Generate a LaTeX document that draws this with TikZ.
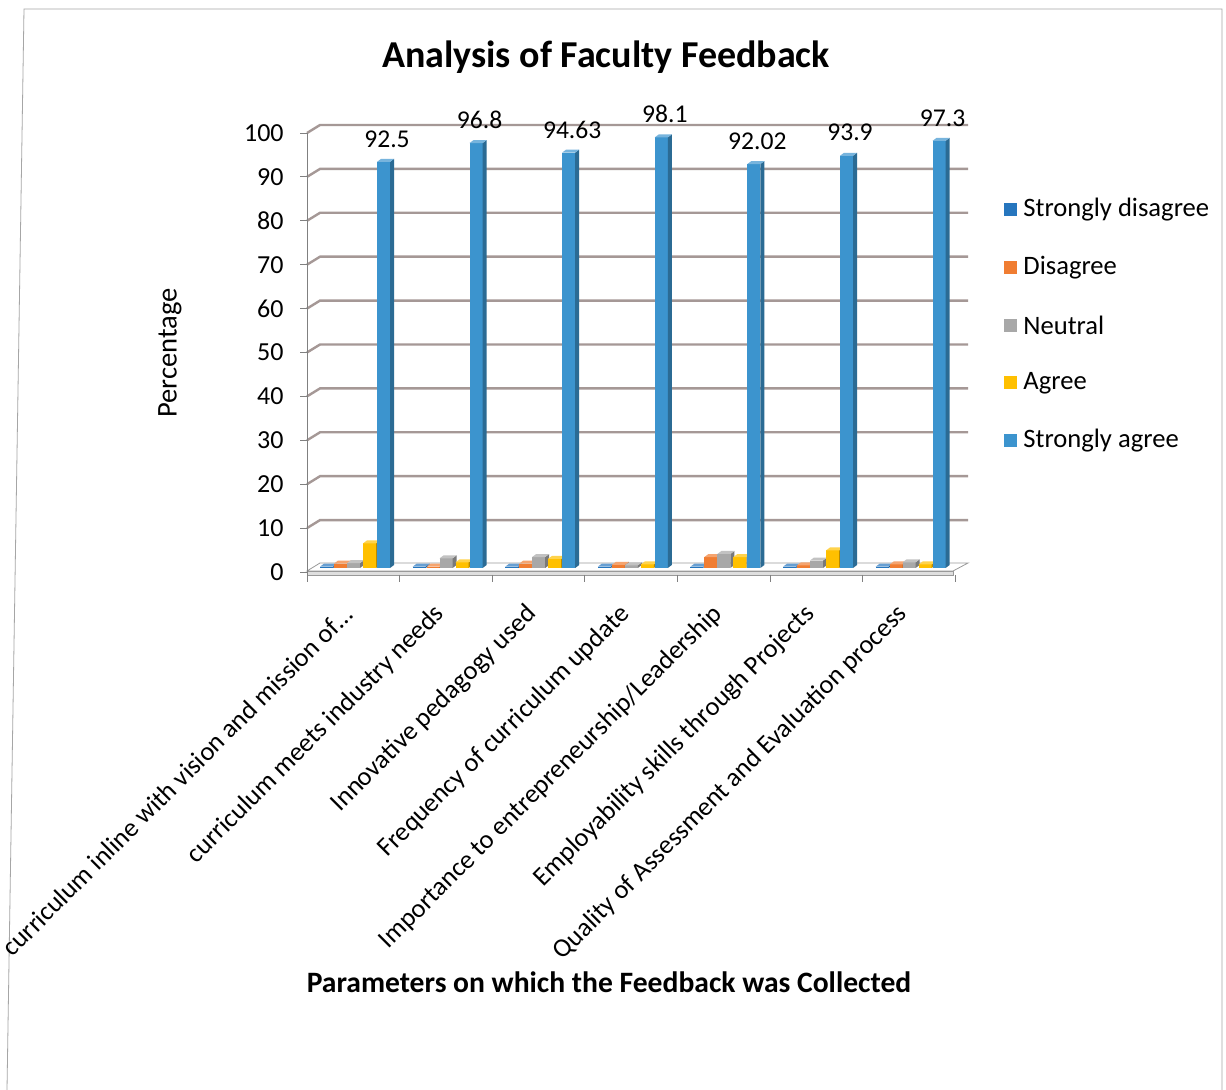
\documentclass[tikz,border=0pt]{standalone}
\usepackage{fontspec}
\setmainfont{Carlito}
\usetikzlibrary{positioning}
\definecolor{sdblue}{RGB}{38,118,190}
\definecolor{dorange}{RGB}{240,125,50}
\definecolor{ngrey}{RGB}{168,168,168}
\definecolor{ayellow}{RGB}{255,192,0}
\definecolor{sablue}{RGB}{60,148,206}
\definecolor{gridbrown}{RGB}{165,152,150}

% one 3D column: x of front-left corner, value, colour
\newcommand{\colbar}[3]{%
  \fill[#3] (#1,568) rectangle ++(13,-4.39*#2);
  \fill[#3!72!black] (#1+13,568) -- ++(4,-3) -- ++(0,-4.39*#2) -- ++(-4,3) -- cycle;
  \fill[#3!70!white] (#1,568-4.39*#2) -- ++(13,0) -- ++(4,-3) -- ++(-13,0) -- cycle;
}

\begin{document}
\begin{tikzpicture}[x=0.5pt,y=-0.5pt]
  \tikzset{TickLabelStyle/.style = {
    anchor     = east,
    inner sep  = 0pt,
    font       = \fontsize{13}{15}\selectfont
    }
  }
  \tikzset{ValueLabelStyle/.style = {
    inner sep  = 0pt,
    font       = \fontsize{12.8}{15}\selectfont
    }
  }
  \tikzset{CategoryStyle/.style = {
    anchor     = east,
    rotate     = 45,
    inner sep  = 0pt,
    font       = \fontsize{13.2}{15}\selectfont
    }
  }
  \tikzset{LegendKeyStyle/.style = {
    shape        = rectangle,
    minimum size = 6.5pt,
    inner sep    = 0pt
    }
  }
  \tikzset{LegendTextStyle/.style = {
    anchor     = west,
    inner sep  = 0pt,
    font       = \fontsize{13.3}{16}\selectfont
    }
  }
  \useasboundingbox (0,0) rectangle (1226,1090);
  \fill[white] (0,0) rectangle (1226,1090);
  \draw[gray!70] (7,1090) -- (24,9) -- (1222,9) -- (1222,1090);

  % back wall grid
  \foreach \v in {10,20,...,100}{
    \draw[gridbrown, line width=1.2pt] (307,572-4.39*\v) -- (320,564-4.39*\v) -- (968,564-4.39*\v);
    \draw[gray] (300,572-4.39*\v) -- (307,572-4.39*\v);
  }
  \foreach \v in {0,10,...,100}
    \node[TickLabelStyle](Y\v) at (284,572-4.39*\v) {\v};

  % floor and axes
  \filldraw[fill=white, draw=gray!80] (307,571) -- (953,571) -- (968,563) -- (320,563) -- cycle;
  \filldraw[fill=gray!25, draw=gray!80] (307,571) -- (953,571) -- (953,575) -- (307,575) -- cycle;
  \draw[gray] (307,575) -- (307,133);
  \draw[gray] (300,572) -- (307,572);
  \foreach \k in {0,...,7}
    \draw[gray] (307+92.6*\k,575) -- (307+92.6*\k,582);

  % bars: strongly disagree / disagree / neutral / agree / strongly agree
  \foreach \sd/\d/\n/\a/\sa [count=\k from 0] in {
      0.3/1.0/1.1/5.6/92.5,
      0.3/0.3/2.2/1.3/96.8,
      0.3/1.0/2.5/2.1/94.63,
      0.3/0.7/0.6/0.8/98.1,
      0.3/2.5/3.2/2.5/92.02,
      0.3/0.6/1.7/4.0/93.9,
      0.3/0.8/1.3/0.8/97.3}{
    \pgfmathsetmacro{\g}{307+92.6*\k}
    \colbar{\g+13}{\sd}{sdblue}
    \colbar{\g+27}{\d}{dorange}
    \colbar{\g+40}{\n}{ngrey}
    \colbar{\g+56}{\a}{ayellow}
    \colbar{\g+70}{\sa}{sablue}
    \node[ValueLabelStyle](V\k) at (\g+80,568-4.39*\sa-23) {\sa};
  }

  % category labels
  \foreach \lab [count=\k from 0] in {
      curriculum inline with vision and mission of…,
      curriculum meets industry needs,
      Innovative pedagogy used,
      Frequency of curriculum update,
      Importance to entrepreneurship/Leadership,
      Employability skills through Projects,
      Quality of Assessment and Evaluation process}
    \node[CategoryStyle](C\k) at (307+92.6*\k+41,610) {\lab};

  % legend
  \foreach \col/\lab [count=\k from 0] in {
      sdblue/Strongly disagree,
      dorange/Disagree,
      ngrey/Neutral,
      ayellow/Agree,
      sablue/Strongly agree}{
    \node[LegendKeyStyle, fill=\col](K\k) at (1010,210+57.6*\k) {};
    \node[LegendTextStyle](L\k) at (1023,210+57.6*\k) {\lab};
  }

  % titles
  \node[font=\fontsize{19}{22}\selectfont\bfseries](title) at (606,57) {Analysis of Faculty Feedback};
  \node[rotate=90, font=\fontsize{14.3}{17}\selectfont](ytitle) at (170,353) {Percentage};
  \node[font=\fontsize{14.8}{17}\selectfont\bfseries](xtitle) at (609,982) {Parameters on which the Feedback was Collected};
\end{tikzpicture}
\end{document}
